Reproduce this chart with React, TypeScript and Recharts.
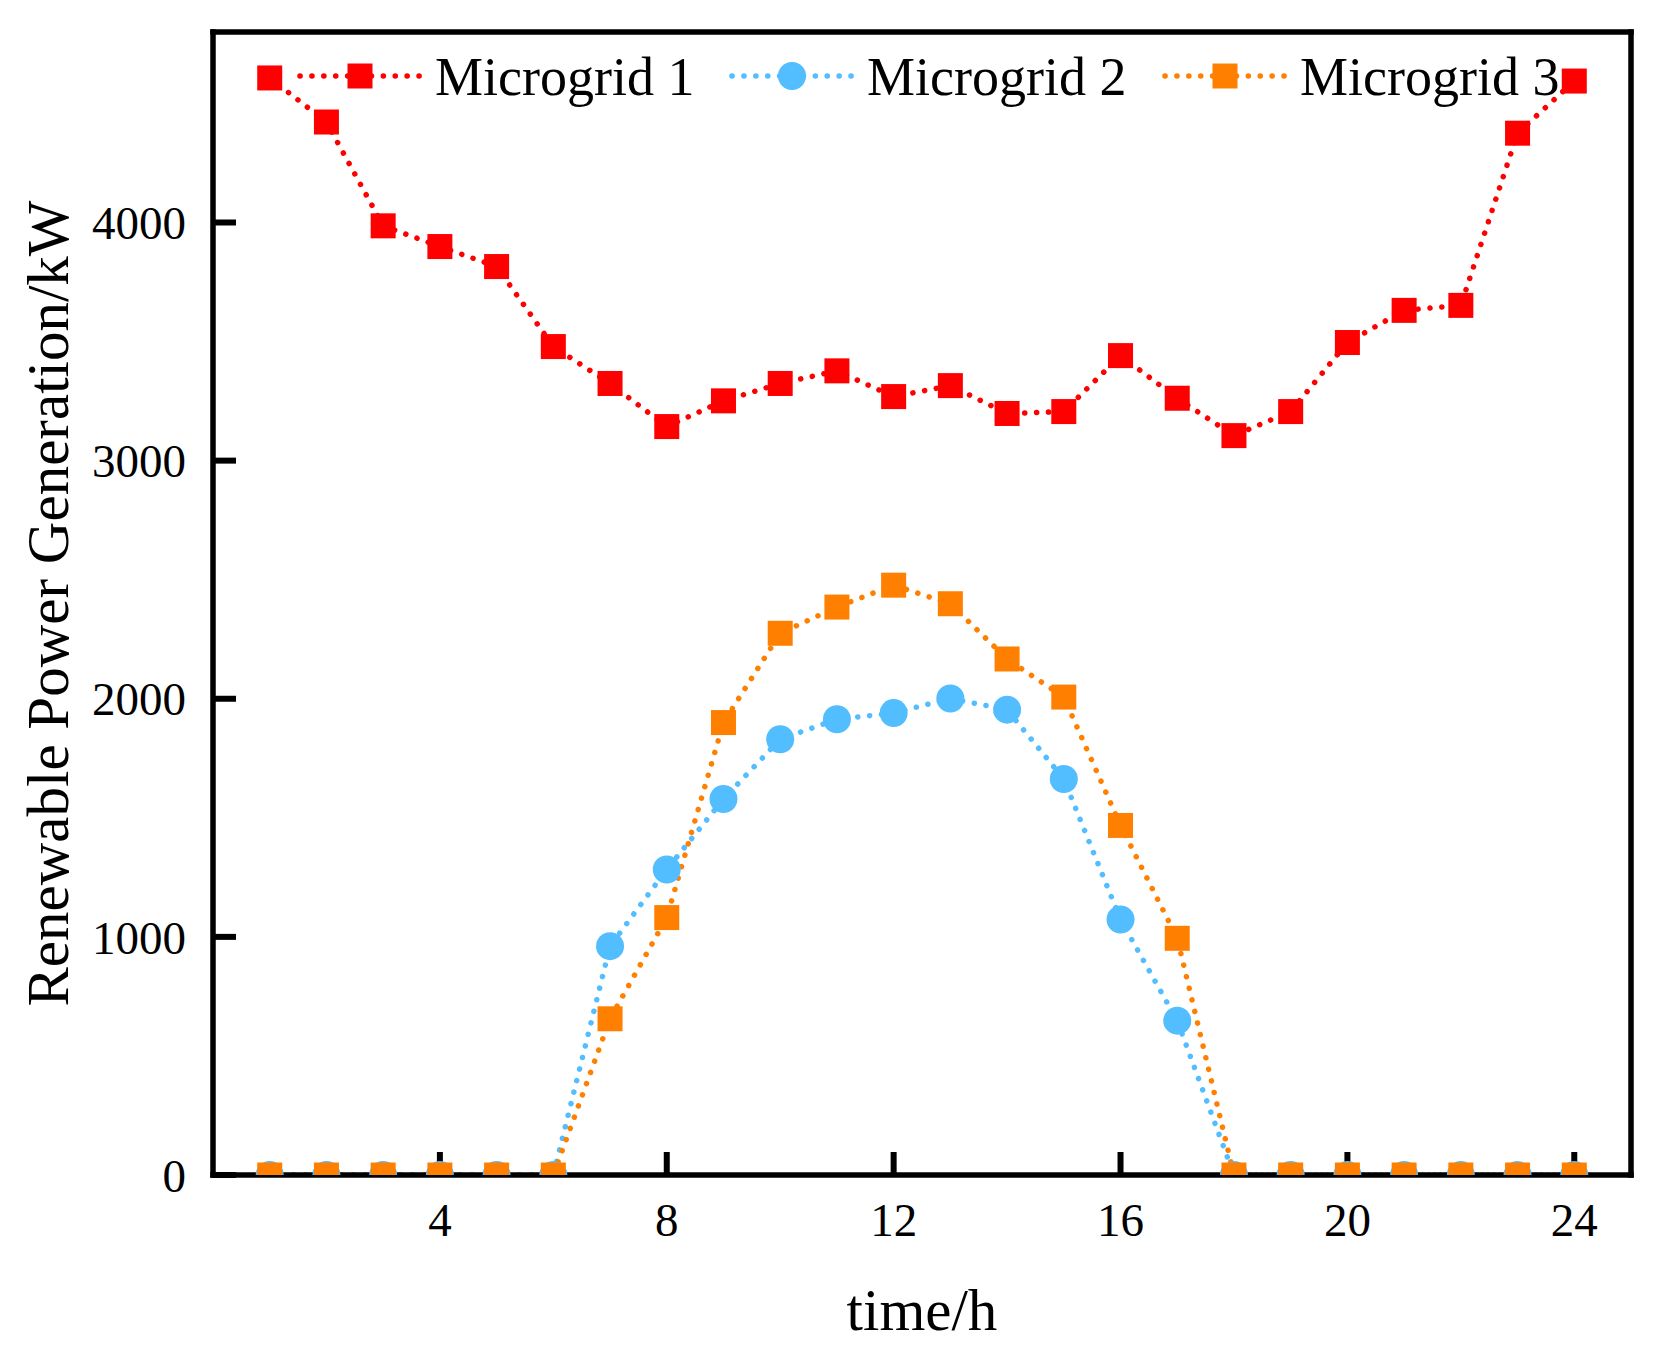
import { LineChart, Line, XAxis, YAxis, Legend, Label } from 'recharts';

const hours = [1, 2, 3, 4, 5, 6, 7, 8, 9, 10, 11, 12, 13, 14, 15, 16, 17, 18, 19, 20, 21, 22, 23, 24];
const microgrid1 = [4607, 4422, 3986, 3899, 3815, 3479, 3324, 3143, 3251, 3324, 3377, 3269, 3315, 3198, 3206, 3441, 3262, 3105, 3206, 3496, 3631, 3652, 4375, 4594];
const microgrid2 = [0, 0, 0, 0, 0, 0, 961, 1283, 1579, 1830, 1914, 1940, 2001, 1954, 1663, 1073, 648, 0, 0, 0, 0, 0, 0, 0];
const microgrid3 = [0, 0, 0, 0, 0, 0, 656, 1081, 1900, 2275, 2385, 2477, 2399, 2167, 2007, 1468, 994, 0, 0, 0, 0, 0, 0, 0];
const xTicks = [4, 8, 12, 16, 20, 24];
const yTicks = [0, 1000, 2000, 3000, 4000];

const data = hours.map((h, i) => ({ h, mg1: microgrid1[i], mg2: microgrid2[i], mg3: microgrid3[i] }));

const FONT = '"Liberation Serif", "Times New Roman", serif';
const RED = '#FF0000';
const BLUE = '#52BDFF';
const ORANGE = '#FF8000';
const DOTTED = { strokeWidth: 5.5, strokeDasharray: '0.1 11.8', strokeLinecap: 'round' as const };

// marker shapes
const SquareDot = ({ cx, cy, fill }: any) =>
  cx == null || cy == null ? null : <rect x={cx - 12.5} y={cy - 12.5} width={25} height={25} fill={fill} />;
const CircleDot = ({ cx, cy, fill }: any) =>
  cx == null || cy == null ? null : <circle cx={cx} cy={cy} r={14} fill={fill} />;

const shapes: Record<string, string> = { mg1: 'square', mg2: 'circle', mg3: 'square' };
const legendX = [300, 732, 1165];

function LegendContent({ payload }: any) {
  return (
    <svg width={1659} height={130} style={{ display: 'block' }}>
      {(payload || []).map((p: any, i: number) => {
        const x = legendX[i];
        const c = p.color;
        return (
          <g key={p.value}>
            <line x1={x} y1={76} x2={x + 122} y2={76} stroke={c} {...DOTTED} />
            {shapes[p.dataKey] === 'circle' ? (
              <CircleDot cx={x + 60} cy={76} fill={c} />
            ) : (
              <SquareDot cx={x + 60} cy={76} fill={c} />
            )}
            <text x={x + 135} y={94.5} fontSize={54} fontFamily={FONT} fill="#000">
              {p.value}
            </text>
          </g>
        );
      })}
    </svg>
  );
}

function YTitle(props: any) {
  const vb = props.viewBox || {};
  const cx = 68;
  const cy = vb.height ? vb.y + vb.height / 2 : 603;
  return (
    <text x={cx} y={cy} transform={`rotate(-90, ${cx}, ${cy})`} textAnchor="middle" fontSize={59} fontFamily={FONT} fill="#000">
      Renewable Power Generation/kW
    </text>
  );
}

const frame = { stroke: '#000', strokeWidth: 5.5, strokeLinecap: 'square' as const };
const tickLine = { stroke: '#000', strokeWidth: 6 };
const tickStyle = { fill: '#000', fontSize: 47, fontFamily: FONT };

export default function App() {
  return (
    <div style={{ position: 'absolute', left: 0, top: 0, width: 1659, height: 1358, background: '#fff' }}>
      <LineChart width={1659} height={1358} data={data} margin={{ top: 31, right: 27, left: 0, bottom: 0 }}>
        <Line dataKey="mg1" name="Microgrid 1" stroke={RED} fill={RED} {...DOTTED} dot={<SquareDot fill={RED} />} activeDot={false} isAnimationActive={false} />
        <Line dataKey="mg2" name="Microgrid 2" stroke={BLUE} fill={BLUE} {...DOTTED} dot={<CircleDot fill={BLUE} />} activeDot={false} isAnimationActive={false} />
        <Line dataKey="mg3" name="Microgrid 3" stroke={ORANGE} fill={ORANGE} {...DOTTED} dot={<SquareDot fill={ORANGE} />} activeDot={false} isAnimationActive={false} />
        <XAxis
          dataKey="h"
          type="number"
          domain={[0, 25]}
          ticks={xTicks}
          height={183}
          stroke="#000"
          strokeWidth={5.5}
          axisLine={frame}
          tickLine={tickLine}
          tickSize={-23}
          tickMargin={51}
          tick={tickStyle}
        >
          <Label value="time/h" position="insideBottom" offset={28} fontSize={59} fontFamily={FONT} fill="#000" />
        </XAxis>
        <XAxis xAxisId="top" orientation="top" type="number" domain={[0, 25]} height={1} tick={false} tickLine={false} stroke="#000" strokeWidth={5.5} axisLine={frame} />
        <YAxis
          type="number"
          domain={[0, 4800]}
          allowDataOverflow
          ticks={yTicks}
          width={213}
          stroke="#000"
          strokeWidth={5.5}
          axisLine={frame}
          tickLine={tickLine}
          tickSize={-23}
          tickMargin={50}
          tick={tickStyle}
        >
          <Label content={YTitle} />
        </YAxis>
        <YAxis yAxisId="right" orientation="right" type="number" domain={[0, 4800]} width={1} tick={false} tickLine={false} stroke="#000" strokeWidth={5.5} axisLine={frame} />
        <Legend
          layout="horizontal"
          verticalAlign="middle"
          align="center"
          content={<LegendContent />}
          wrapperStyle={{ left: 0, top: 0, width: 1659, height: 130 }}
        />
      </LineChart>
    </div>
  );
}
